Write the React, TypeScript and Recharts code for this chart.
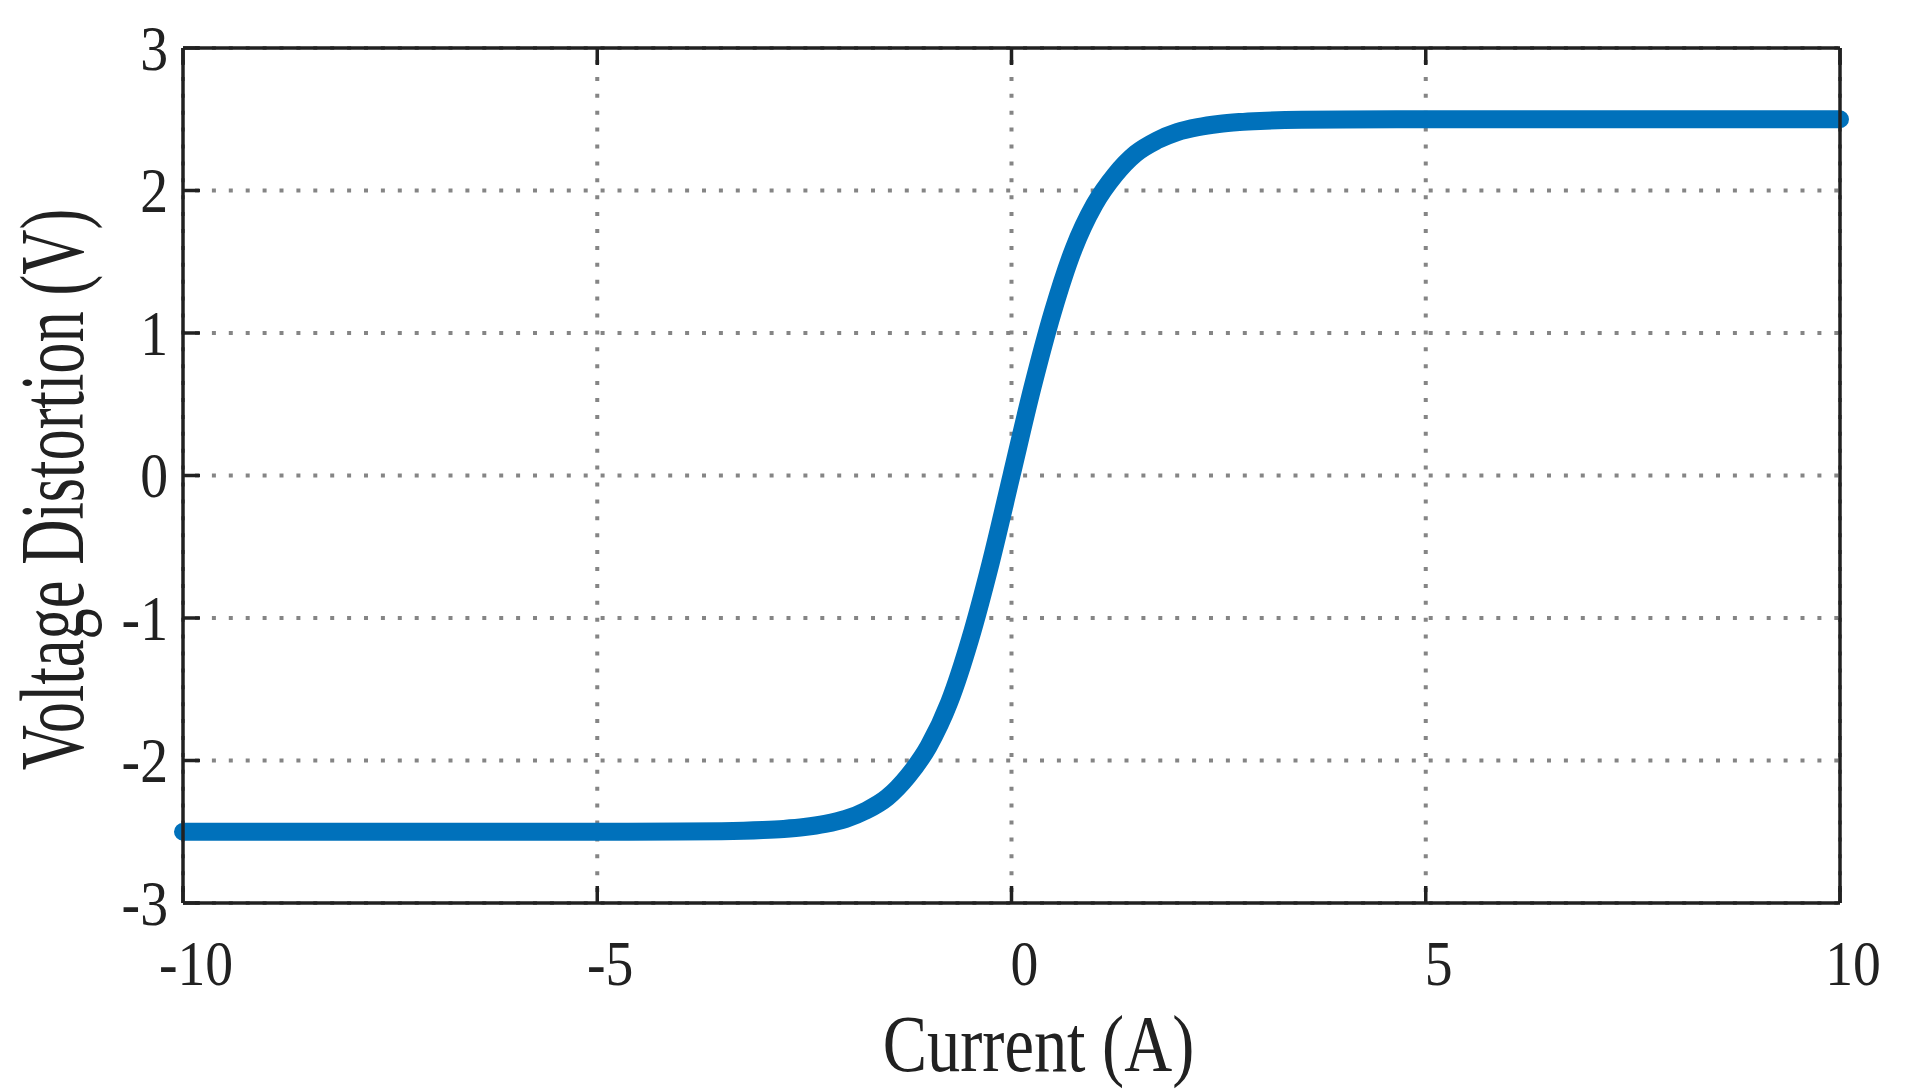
import React from "react";
import { LineChart, Line, XAxis, YAxis, CartesianGrid, Label } from "recharts";

const currentA = [-10, -8, -6, -5, -4, -3.5, -3, -2.75, -2.5, -2.25, -2, -1.75, -1.5, -1.25, -1, -0.75, -0.5, -0.25, 0, 0.25, 0.5, 0.75, 1, 1.25, 1.5, 1.75, 2, 2.25, 2.5, 2.75, 3, 3.5, 4, 5, 6, 8, 10];
const distortionV = [-2.5, -2.5, -2.5, -2.5, -2.498, -2.496, -2.488, -2.48, -2.467, -2.445, -2.41, -2.35, -2.26, -2.11, -1.9, -1.59, -1.15, -0.61, 0, 0.61, 1.15, 1.59, 1.9, 2.11, 2.26, 2.35, 2.41, 2.445, 2.467, 2.48, 2.488, 2.496, 2.498, 2.5, 2.5, 2.5, 2.5];
const xTicks = [-10, -5, 0, 5, 10];
const yTicks = [-3, -2, -1, 0, 1, 2, 3];
const xTitle = "Current (A)";
const yTitle = "Voltage Distortion (V)";

const data = currentA.map((x, i) => ({ x, y: distortionV[i] }));

const INK = "#212121";
const FONT = "'Liberation Serif', 'Times New Roman', serif";
const TICK_LEN = 17;
const AX_W = 3.5;

const LeftTick = (p: any) => {
  const { x, y, payload } = p;
  return (
    <g>
      <line x1={x} x2={x + TICK_LEN} y1={y} y2={y} stroke={INK} strokeWidth={AX_W} />
      <text
        transform={`translate(${x - 15},${y + 21.5}) scale(0.87,1)`}
        textAnchor="end"
        fontFamily={FONT}
        fontSize={64}
        fill={INK}
      >
        {String(payload.value)}
      </text>
    </g>
  );
};

const RightTick = (p: any) => {
  const { x, y } = p;
  return <line x1={x} x2={x - TICK_LEN} y1={y} y2={y} stroke={INK} strokeWidth={AX_W} />;
};

const BottomTick = (p: any) => {
  const { x, y, payload } = p;
  return (
    <g>
      <line x1={x} x2={x} y1={y} y2={y - TICK_LEN} stroke={INK} strokeWidth={AX_W} />
      <text
        transform={`translate(${x + 13},${y + 82}) scale(0.87,1)`}
        textAnchor="middle"
        fontFamily={FONT}
        fontSize={64}
        fill={INK}
      >
        {String(payload.value)}
      </text>
    </g>
  );
};

const TopTick = (p: any) => {
  const { x, y } = p;
  return <line x1={x} x2={x} y1={y} y2={y + TICK_LEN} stroke={INK} strokeWidth={AX_W} />;
};

const XTitle = (p: any) => {
  const vb = p.viewBox || {};
  const cx = (vb.x ?? 183) + (vb.width ?? 1657) / 2 + 27;
  const by = (vb.y ?? 903) + 168;
  return (
    <text
      transform={`translate(${cx},${by}) scale(0.83,1)`}
      textAnchor="middle"
      fontFamily={FONT}
      fontSize={80}
      fill={INK}
    >
      {xTitle}
    </text>
  );
};

const YTitle = (p: any) => {
  const vb = p.viewBox || {};
  const cy = (vb.y ?? 48) + (vb.height ?? 855) / 2 + 14;
  return (
    <text
      transform={`translate(83,${cy}) rotate(-90) scale(0.695,1)`}
      textAnchor="middle"
      fontFamily={FONT}
      fontSize={90}
      fill={INK}
    >
      {yTitle}
    </text>
  );
};

export default function App() {
  return (
    <div style={{ position: "absolute", left: 0, top: 0, width: 1908, height: 1090, background: "#fff" }}>
      <LineChart
        width={1908}
        height={1090}
        data={data}
        margin={{ top: 38, right: 48, bottom: 37, left: 33 }}
      >
        <CartesianGrid
          stroke="#858585"
          strokeWidth={4}
          strokeDasharray="4 12.9"
          strokeDashoffset={4.9}
          horizontalValues={yTicks}
          verticalValues={xTicks}
          xAxisId="b"
          yAxisId="l"
        />
        <XAxis
          xAxisId="b"
          type="number"
          dataKey="x"
          domain={[-10, 10]}
          ticks={xTicks}
          interval={0}
          orientation="bottom"
          height={150}
          tickSize={0}
          tickMargin={0}
          tickLine={false}
          axisLine={{ stroke: INK, strokeWidth: AX_W }}
          tick={<BottomTick />}
        >
          <Label content={<XTitle />} />
        </XAxis>
        <XAxis
          xAxisId="t"
          type="number"
          dataKey="x"
          domain={[-10, 10]}
          ticks={xTicks}
          interval={0}
          orientation="top"
          height={10}
          tickSize={0}
          tickMargin={0}
          tickLine={false}
          axisLine={{ stroke: INK, strokeWidth: AX_W }}
          tick={<TopTick />}
        />
        <YAxis
          yAxisId="l"
          type="number"
          domain={[-3, 3]}
          ticks={yTicks}
          interval={0}
          orientation="left"
          width={150}
          tickSize={0}
          tickMargin={0}
          tickLine={false}
          axisLine={{ stroke: INK, strokeWidth: AX_W }}
          tick={<LeftTick />}
        >
          <Label content={<YTitle />} />
        </YAxis>
        <YAxis
          yAxisId="r"
          type="number"
          domain={[-3, 3]}
          ticks={yTicks}
          interval={0}
          orientation="right"
          width={20}
          tickSize={0}
          tickMargin={0}
          tickLine={false}
          axisLine={{ stroke: INK, strokeWidth: AX_W }}
          tick={<RightTick />}
        />
        <Line
          xAxisId="b"
          yAxisId="l"
          type="monotone"
          dataKey="y"
          stroke="#0071BB"
          strokeWidth={18}
          strokeLinecap="round"
          strokeLinejoin="round"
          dot={false}
          activeDot={false}
          isAnimationActive={false}
        />
      </LineChart>
    </div>
  );
}
